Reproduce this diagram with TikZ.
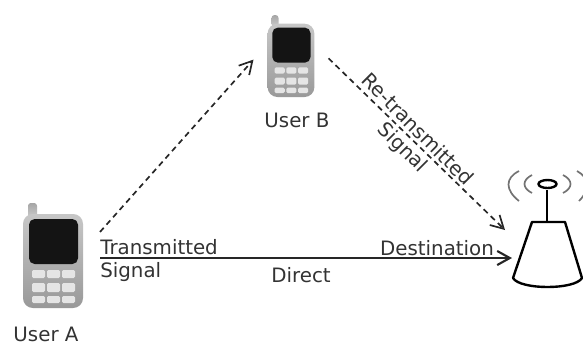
\documentclass[tikz,border=0pt]{standalone}
\usepackage{xcolor}
\usepackage{fontspec}
\setmainfont{DejaVu Sans}
\usetikzlibrary{arrows.meta}
\tikzset{
  lbl/.style={font=\fontsize{14.1}{16}\selectfont,text=black!80,inner sep=0pt},
  link/.style={draw=black!85,line width=1.5pt,-{Straight Barb[length=9pt,width=10pt]}},
  dlink/.style={link,dash pattern=on 4pt off 3pt,line width=1.2pt},
  wave/.style={draw=black!55,line width=1.2pt},
  key/.style={draw=none,fill=black!10,rounded corners=1pt},
  phone/.pic={
    \shade[top color=black!35,bottom color=black!20,rounded corners=2pt] (-25,-55) rectangle (-16,-40);
    \shade[top color=black!22,bottom color=black!40,rounded corners=7pt] (-30,-44) rectangle (30,50);
    \fill[black!92,rounded corners=4pt] (-24,-39) rectangle (25,6);
    \foreach \row/\h in {12/8,25/9,38/7}
      \foreach \col in {-21,-6,9}
        \fill[key] (\col,\row) rectangle +(13,\h);
  }
}
\begin{document}
\begin{tikzpicture}[x=.25mm,y=-.25mm]
\useasboundingbox (0,0) rectangle (583,343);
\pic at (53,258) {phone};
\pic[scale=.78] at (291,58) {phone};
\node at (53,258) [minimum width=23.5mm,minimum height=30mm,inner sep=0pt,outer sep=0pt] (usera) {};
\node at (291,55) [minimum width=18.75mm,minimum height=20mm,inner sep=0pt,outer sep=0pt] (userb) {};
\node at (548,258) [minimum width=18mm,minimum height=20mm,inner sep=0pt,outer sep=0pt] (tower) {};
\coordinate (rx) at (505,230);
\draw[black,line width=1.7pt,line join=round] (532,222) -- (565,222) -- (582,278) .. controls (575,290) and (520,290) .. (513,278) -- cycle;
\draw[black,line width=2pt] (547,222) -- (547,190);
\draw[black,line width=1.7pt] (547.5,184) ellipse (9 and 4);
\draw[wave] (532,175) .. controls (522,180) and (522,188) .. (532,193);
\draw[wave] (519,171) .. controls (505,178) and (505,190) .. (519,201);
\draw[wave] (563,175) .. controls (573,180) and (573,188) .. (563,193);
\draw[wave] (577,171) .. controls (590,178) and (590,190) .. (579,201);
\draw[dlink] (usera.29) -- (userb.187);
\draw[dlink] (userb.-5) -- (rx);
\draw[link] (usera.east) -- (tower.west);
\node at (46,334) [lbl] (labela) {User A};
\node at (297,120) [lbl] (labelb) {User B};
\node at (100,247) [lbl,anchor=west] (tx) {Transmitted};
\node at (100,272) [lbl,anchor=west] (sig) {Signal};
\node at (301,275) [lbl] (direct) {Direct};
\node at (437,248) [lbl] (dest) {Destination};
\node at (418,129) [lbl,rotate=-45] (retx) {Re-transmitted};
\node at (402,148) [lbl,rotate=-45] (resig) {Signal};
\end{tikzpicture}
\end{document}
